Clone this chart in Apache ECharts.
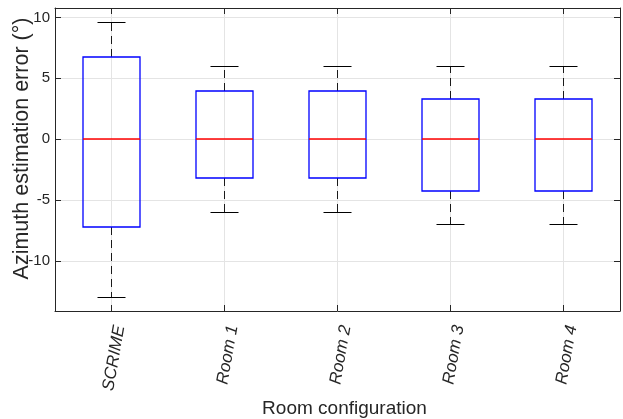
<!DOCTYPE html>
<html><head><meta charset="utf-8">
<script src="https://cdn.jsdelivr.net/npm/echarts@6/dist/echarts.min.js"></script>
<style>html,body{margin:0;padding:0;background:#fff}#c{width:623px;height:419px}</style>
</head><body><div id="c"></div>
<script>
const categories = ['SCRIME', 'Room 1', 'Room 2', 'Room 3', 'Room 4'];
const lowerWhisker = [-12.95, -6.0, -6.0, -7.0, -7.0];
const q1 = [-7.22, -3.21, -3.21, -4.25, -4.25];
const median = [0, 0, 0, 0, 0];
const q3 = [6.78, 4.0, 4.0, 3.29, 3.29];
const upperWhisker = [9.57, 6.0, 6.0, 6.0, 6.0];
const yTicks = [-10, -5, 0, 5, 10];
const xTicks = [1, 2, 3, 4, 5];
const yMin = -14.09, yMax = 10.77;

const FONT = 'Liberation Sans, Arial, Helvetica, sans-serif';
const AX = '#262626';
const GRID = '#e4e4e4';

const data = categories.map((c, i) => [i + 1, lowerWhisker[i], q1[i], median[i], q3[i], upperWhisker[i]]);

function crisp(v) { return Math.round(v - 0.5) + 0.5; }

function renderItem(params, api) {
  const x = api.value(0);
  const pLow = api.coord([x, api.value(1)]);
  const pQ1 = api.coord([x, api.value(2)]);
  const pMed = api.coord([x, api.value(3)]);
  const pQ3 = api.coord([x, api.value(4)]);
  const pHigh = api.coord([x, api.value(5)]);
  const boxW = api.size([0.5, 0])[0];
  const capW = api.size([0.25, 0])[0];
  const cx = crisp(pMed[0]);
  const cl = crisp(pMed[0] - capW / 2), cr = crisp(pMed[0] + capW / 2);
  const yLow = crisp(pLow[1]), yHigh = crisp(pHigh[1]);
  const bl = Math.round(pMed[0] - boxW / 2), br = Math.round(pMed[0] + boxW / 2);
  const bQ1 = Math.round(pQ1[1]), bQ3 = Math.round(pQ3[1]), bMed = Math.round(pMed[1]);
  const dash = { stroke: '#1a1a1a', lineWidth: 1, lineDash: [8, 5], fill: null };
  const solid = { stroke: '#000000', lineWidth: 1, fill: null };
  return {
    type: 'group',
    children: [
      { type: 'line', shape: { x1: cx, y1: bQ3, x2: cx, y2: yHigh }, style: dash },
      { type: 'line', shape: { x1: cx, y1: bQ1, x2: cx, y2: yLow }, style: dash },
      { type: 'line', shape: { x1: cl, y1: yHigh, x2: cr, y2: yHigh }, style: solid },
      { type: 'line', shape: { x1: cl, y1: yLow, x2: cr, y2: yLow }, style: solid },
      { type: 'rect', shape: { x: bl, y: bQ3, width: br - bl, height: bQ1 - bQ3 }, style: { stroke: '#0000ff', lineWidth: 1.3, fill: null } },
      { type: 'line', shape: { x1: bl, y1: bMed, x2: br, y2: bMed }, style: { stroke: '#ff0000', lineWidth: 1.3, fill: null } }
    ]
  };
}

const chart = echarts.init(document.getElementById('c'), null, { renderer: 'canvas' });
const axisLine = { show: true, onZero: false, lineStyle: { color: AX, width: 1 } };
chart.setOption({
  animation: false,
  backgroundColor: '#fff',
  textStyle: { fontFamily: FONT },
  grid: { left: 55, right: 3, top: 8, bottom: 108, containLabel: false, outerBoundsMode: 'none' },
  xAxis: [
    {
      type: 'value', min: 0.5, max: 5.5, position: 'bottom',
      axisLine: axisLine,
      axisTick: { show: true, inside: true, length: 6, customValues: xTicks, lineStyle: { color: AX } },
      axisLabel: {
        customValues: xTicks,
        formatter: v => categories[Math.round(v) - 1],
        rotate: 80, fontStyle: 'italic', fontSize: 17, color: AX, fontFamily: FONT,
        align: 'right', verticalAlign: 'top', margin: 13
      },
      splitLine: { show: true, lineStyle: { color: GRID, width: 1 } },
      name: 'Room configuration', nameLocation: 'middle', nameGap: 88, nameMoveOverlap: false,
      nameTextStyle: { fontSize: 19, color: AX, fontFamily: FONT, padding: [0, 0, 0, 14] }
    },
    {
      type: 'value', min: 0.5, max: 5.5, position: 'top',
      axisLine: axisLine,
      axisTick: { show: true, inside: true, length: 6, customValues: xTicks, lineStyle: { color: AX } },
      axisLabel: { show: false },
      splitLine: { show: false }
    }
  ],
  yAxis: [
    {
      type: 'value', min: yMin, max: yMax, position: 'left',
      axisLine: axisLine,
      axisTick: { show: true, inside: true, length: 6, customValues: yTicks, lineStyle: { color: AX } },
      axisLabel: { customValues: yTicks, fontSize: 15, color: AX, fontFamily: FONT, margin: 5 },
      splitLine: { show: true, lineStyle: { color: GRID, width: 1 } },
      name: 'Azimuth estimation error (°)', nameLocation: 'middle', nameRotate: 90, nameGap: 22, nameMoveOverlap: false,
      nameTextStyle: { fontSize: 21.5, color: AX, fontFamily: FONT, padding: [0, 0, 0, 22] }
    },
    {
      type: 'value', min: yMin, max: yMax, position: 'right',
      axisLine: axisLine,
      axisTick: { show: true, inside: true, length: 6, customValues: yTicks, lineStyle: { color: AX } },
      axisLabel: { show: false },
      splitLine: { show: false }
    }
  ],
  series: [{
    type: 'custom',
    xAxisIndex: 0, yAxisIndex: 0,
    renderItem: renderItem,
    data: data,
    encode: { x: 0, y: [1, 2, 3, 4, 5] },
    clip: false,
    z: 10
  }]
});
</script>
</body></html>
